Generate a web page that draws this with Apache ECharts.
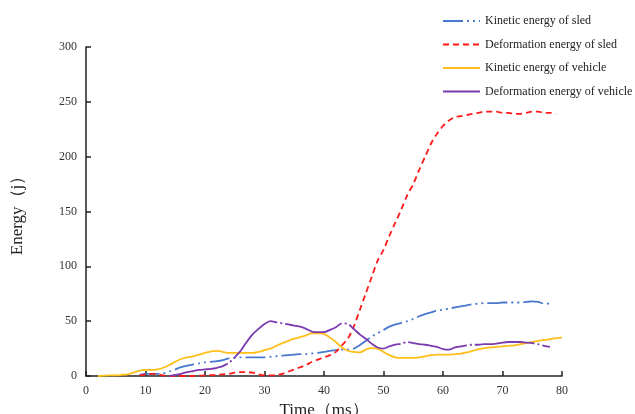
<!DOCTYPE html>
<html><head><meta charset="utf-8">
<script src="https://cdn.jsdelivr.net/npm/echarts@6/dist/echarts.min.js"></script>
<style>html,body{margin:0;padding:0;background:#fff}#c{width:635px;height:414px}</style>
</head><body><div id="c"></div>
<script>
var timeMs = [];
for (var i = 0; i <= 80; i++) timeMs.push(i);
var xTicks = [0,10,20,30,40,50,60,70,80];
var yTicks = [0,50,100,150,200,250,300];
var seriesNames = ['Kinetic energy of sled','Deformation energy of sled','Kinetic energy of vehicle','Deformation energy of vehicle'];
var n = null;
// index = time (ms)
var sledKinetic = [n,n,n,n,n,n,n,n,n,1,2,2,2,2.5,4,6,8,9.5,10.5,11.5,
  12.5,13,13.5,14.5,16,16.5,17,17,17,17,17,17.5,18,18.5,19,19.5,20,20,20.5,21,
  22,23,23.5,24,24,25,28,32,36,39,42,45,47,48.5,50,52,54.5,56.5,58,59.5,
  60.5,61.5,62.5,63.5,64.5,65.5,66,66.5,66.5,66.5,67,67,67,67,67.5,68,67.5,66,66,n,n];
var sledDeformation = [n,n,n,n,n,n,n,n,n,0.5,1.5,2,1.5,0.5,0,0,0,0,0,0.3,
  0.5,0.8,1,1.5,2,3,3.5,3.5,3,1.5,0.5,0.5,1,2,4,6,8,10,13,15,
  17,19,22,28,34,45,60,75,90,105,115,128,140,152,165,175,188,200,212,221,
  228,233,236,237,238,239,240,241,241,241,240,240,239,239,240,241,241,240,240,239,n];
var vehicleKinetic = [n,n,0,0.3,0.5,0.5,1,1.5,3,5,5.5,5.5,6,7.5,10,13,15.5,17,18,19.5,
  21,22.5,23,22,21,21,21,21,21,22,23.5,25,27.5,30,32,34,35.5,37,39,39,
  38.5,35,31,26,23,22,21.5,24,25.5,25,22,19,17,16.5,16.5,16.5,17,18,19,19.5,
  19.5,19.5,20,20.5,21.5,23,24.5,25.5,26,26.5,27,27.5,28,29,30,31,32,33,33.5,34.5,35];
var vehicleDeformation = [n,n,n,n,n,n,n,n,n,n,n,n,n,n,0,1,2,3.5,4.5,5.5,
  6,6.5,7.5,9,12,17,23,31,38,43,47.5,50,49,48,47,46,45,43,40.5,40,
  40,42,44.5,48,47.5,43,38,34,29.5,26,25,27,28.5,29.5,31,30,29,28.5,27.5,26.5,
  24.5,24,26,27,28,28.5,28.5,29,29,29.5,30.5,31,31,31,30.5,30,29,27.5,26.5,n,n];

function pairs(vals){ return timeMs.map(function(t,i){ return [t, vals[i]]; }); }

var chart = echarts.init(document.getElementById('c'), null, {renderer:'canvas'});
var font = 'Liberation Serif';
function mk(name, vals, color, type, width){
  return {name:name, type:'line', data:pairs(vals), showSymbol:false, symbol:'none', smooth:0.3,
    connectNulls:false,
    lineStyle:{color:color, width:width, type:type}, itemStyle:{color:color}};
}
chart.setOption({
  animation:false,
  backgroundColor:'#fff',
  grid:{left:86, right:73, top:47, bottom:38, containLabel:false, outerBoundsMode:'none'},
  legend:{orient:'vertical', left:437, top:10, itemWidth:37, itemHeight:14, itemGap:11.5,
    itemStyle:{opacity:0},
    textStyle:{fontFamily:font, fontSize:12, color:'#222'},
    data:seriesNames},
  xAxis:{type:'value', min:0, max:80, interval:10,
    name:'Time（ms）', nameLocation:'middle', nameGap:21,
    nameTextStyle:{fontFamily:font, fontSize:17, color:'#222'},
    axisLine:{lineStyle:{color:'#222', width:1.5}},
    axisTick:{inside:true, length:5, lineStyle:{color:'#222', width:1.5}},
    axisLabel:{fontFamily:font, fontSize:12, color:'#333', margin:9},
    splitLine:{show:false}},
  yAxis:{type:'value', min:0, max:300, interval:50,
    name:'Energy（j）', nameLocation:'middle', nameGap:60, nameRotate:90,
    nameTextStyle:{fontFamily:font, fontSize:17, color:'#222'},
    axisLine:{show:true, lineStyle:{color:'#222', width:1.5}},
    axisTick:{show:true, inside:true, length:5, lineStyle:{color:'#222', width:1.5}},
    axisLabel:{fontFamily:font, fontSize:12, color:'#333', margin:9},
    splitLine:{show:false}},
  series:[
    mk(seriesNames[0], sledKinetic, '#4a78d0', [20,4,2,4,2,4], 1.8),
    mk(seriesNames[1], sledDeformation, '#ff1a1a', [6,4], 1.8),
    mk(seriesNames[2], vehicleKinetic, '#ffbf1a', 'solid', 1.8),
    mk(seriesNames[3], vehicleDeformation, '#7a3ab0', [60,3,2,3], 1.8)
  ]
});
</script></body></html>
